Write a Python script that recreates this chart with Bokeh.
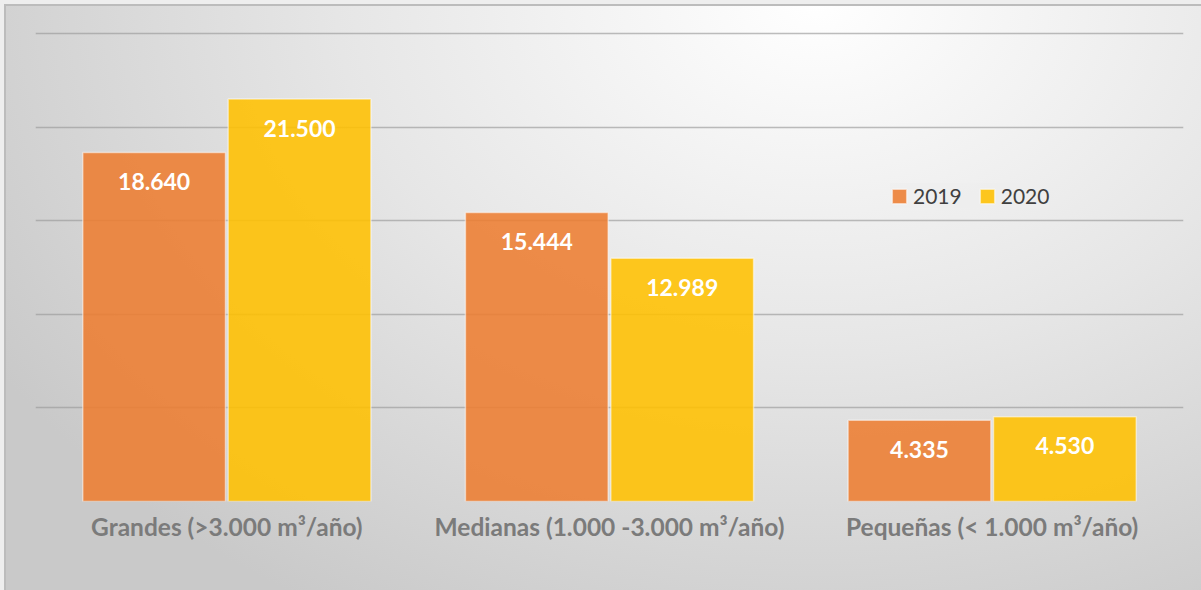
from bokeh.plotting import figure
from bokeh.models import ColumnDataSource, Range1d, FixedTicker, Legend, LegendItem
from bokeh.transform import dodge
from bokeh.core.properties import value
from bokeh.embed import file_html
from bokeh.resources import INLINE

categories = ["Grandes (>3.000 m³/año)", "Medianas (1.000 -3.000 m³/año)", "Pequeñas (< 1.000 m³/año)"]
years = ["2019", "2020"]
values_2019 = [18640, 15444, 4335]
values_2020 = [21500, 12989, 4530]
labels_2019 = ["18.640", "15.444", "4.335"]
labels_2020 = ["21.500", "12.989", "4.530"]
grid_ticks = [0, 5000, 10000, 15000, 20000, 25000]

src = ColumnDataSource(dict(cat=categories, v2019=values_2019, v2020=values_2020,
                            l2019=labels_2019, l2020=labels_2020))

p = figure(x_range=categories, y_range=Range1d(0, 25320), width=1201, height=590,
           output_backend="svg", toolbar_location=None,
           min_border_left=35, min_border_right=18, min_border_top=27, min_border_bottom=89)
p.background_fill_alpha = 0
p.border_fill_alpha = 0
p.outline_line_color = None
p.styles = {
    "background": "radial-gradient(ellipse 80% 120% at 68% 0%, #ffffff 0%, #e6e6e6 50%, #c9c9c9 100%)",
    "box-shadow": "inset 4px 4px 0 0 #eeeeee, inset 6px 6px 0 0 #bcbcbc",
}

colors = ["#ED7D31", "#FFC000"]
r1 = p.vbar(x=dodge("cat", -0.19, range=p.x_range), top="v2019", width=0.373, source=src,
            fill_color=colors[0], fill_alpha=0.88, line_color="white", line_alpha=0.5, line_width=1.5)
r2 = p.vbar(x=dodge("cat", 0.19, range=p.x_range), top="v2020", width=0.373, source=src,
            fill_color=colors[1], fill_alpha=0.88, line_color="white", line_alpha=0.5, line_width=1.5)

for off, col, vcol in [(-0.19, "l2019", "v2019"), (0.19, "l2020", "v2020")]:
    p.text(x=dodge("cat", off, range=p.x_range), y=vcol,
           text=col, source=src, text_align="center", text_baseline="middle", y_offset=29,
           text_color="white", text_font=value("Lato"), text_font_style="bold", text_font_size="23px")

p.yaxis.visible = False
p.xgrid.visible = False
p.ygrid.ticker = FixedTicker(ticks=grid_ticks)
p.ygrid.grid_line_color = "#9a9a9a"
p.ygrid.grid_line_alpha = 0.65
p.ygrid.grid_line_width = 1.5

ax = p.xaxis[0]
ax.axis_line_color = None
ax.major_tick_line_color = None
ax.minor_tick_line_color = None
ax.major_label_text_font = "Lato"
ax.major_label_text_font_style = "bold"
ax.major_label_text_font_size = "24.5px"
ax.major_label_text_color = "#7b7b7b"
ax.major_label_standoff = 4

legend = Legend(items=[LegendItem(label=years[0], renderers=[r1]),
                       LegendItem(label=years[1], renderers=[r2])],
                orientation="horizontal", location=(855, 293))
legend.glyph_width = 18
legend.glyph_height = 18
legend.label_text_font = "Lato"
legend.label_text_font_size = "21px"
legend.label_text_color = "#404040"
legend.label_standoff = 5
legend.spacing = 16
legend.padding = 10
legend.margin = 0
legend.border_line_color = None
legend.background_fill_color = "#eeeeee"
legend.background_fill_alpha = 0.5
p.add_layout(legend)

open("out.html", "w").write(file_html(p, INLINE))
